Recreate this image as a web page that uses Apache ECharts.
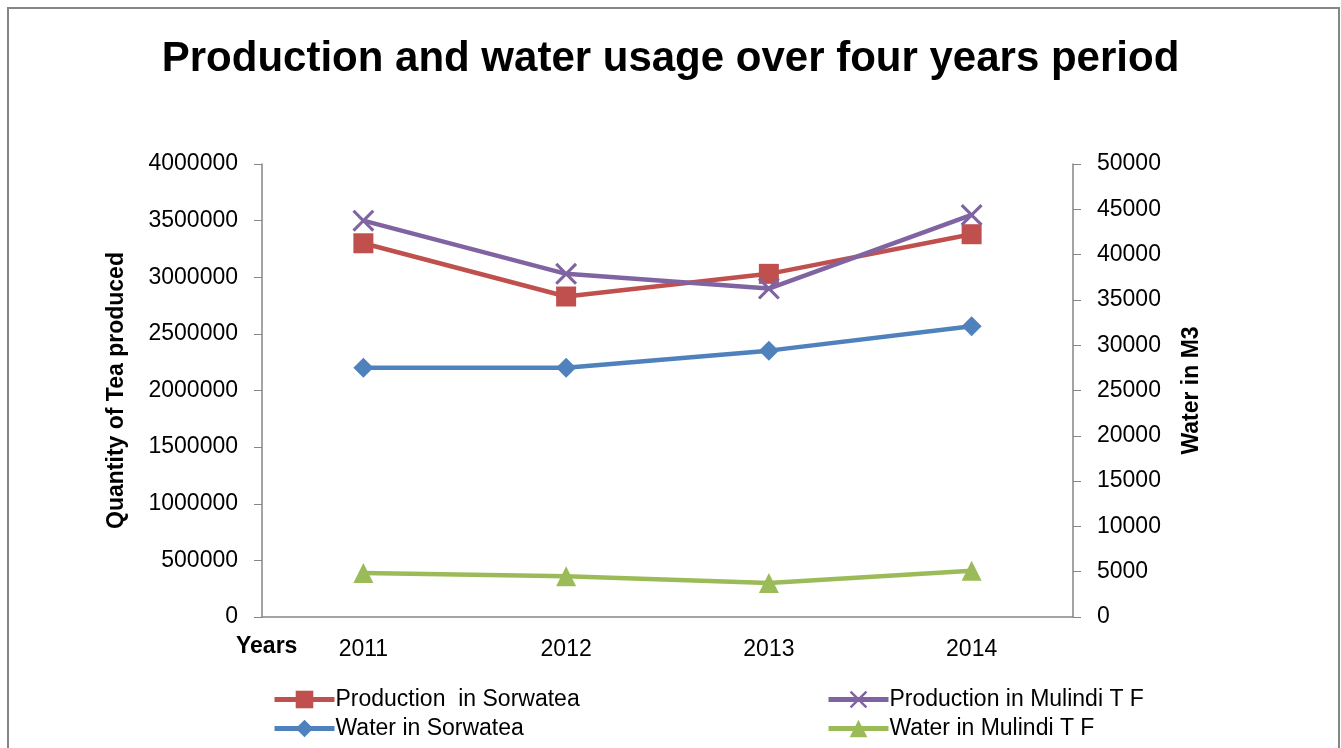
<!DOCTYPE html>
<html>
<head>
<meta charset="utf-8">
<title>Production and water usage</title>
<script src="https://cdn.jsdelivr.net/npm/echarts@6/dist/echarts.min.js"></script>
<style>
  html, body { margin: 0; padding: 0; background: #fff; }
  #chart { width: 1341px; height: 748px; }
</style>
</head>
<body>
<div id="chart"></div>
<script>
// values
var years = ['2011', '2012', '2013', '2014']
var prodSorwatea = [3300000, 2830000, 3030000, 3380000]
var prodMulindi = [3500000, 3030000, 2900000, 3550000]
var waterSorwatea = [27500, 27500, 29400, 32100]
var waterMulindi = [4850, 4500, 3750, 5100]

var font = '"Liberation Sans", Arial, sans-serif'
// filled cross, the purple series marker
var crossPath = 'path://M0,2L2,0L10,8L18,0L20,2L12,10L20,18L18,20L10,12L2,20L0,18L8,10Z'

var chart = echarts.init(document.getElementById('chart'))

function lineSeries(name, data, color, symbol, size, yIndex) {
  return {
    name: name,
    type: 'line',
    yAxisIndex: yIndex,
    data: data,
    symbol: symbol,
    symbolSize: size,
    showSymbol: true,
    lineStyle: { color: color, width: 4.5 },
    itemStyle: { color: color },
    emphasis: { disabled: true },
    animation: false
  }
}

// plain numbers, no thousands separator
function plain(v) {
  return String(v)
}

var legendBase = {
  orient: 'vertical',
  top: 683,
  itemWidth: 60,
  itemHeight: 22,
  itemGap: 6,
  lineStyle: { width: 5 },
  textStyle: { fontFamily: font, fontSize: 23, color: '#000', padding: [0, 0, 0, -4] }
}

chart.setOption({
  textStyle: { fontFamily: font },
  title: {
    text: 'Production and water usage over four years period',
    left: 'center',
    top: 33,
    textStyle: { fontFamily: font, fontSize: 42, fontWeight: 'bold', color: '#000' }
  },
  grid: { left: 262, right: 268, top: 164, bottom: 131 },
  legend: [
    Object.assign({}, legendBase, {
      left: 267,
      data: ['Production  in Sorwatea', 'Water in Sorwatea']
    }),
    Object.assign({}, legendBase, {
      left: 821,
      data: ['Production in Mulindi T F', 'Water in Mulindi T F']
    })
  ],
  xAxis: {
    type: 'category',
    data: years,
    axisLine: { lineStyle: { color: '#868686', width: 1.5 } },
    axisTick: { show: false },
    axisLabel: { color: '#000', fontSize: 23, fontFamily: font, margin: 21 }
  },
  yAxis: [
    {
      type: 'value',
      min: 0,
      max: 4000000,
      interval: 500000,
      name: 'Quantity of Tea produced',
      nameLocation: 'middle',
      nameGap: 134,
      nameTextStyle: { fontFamily: font, fontSize: 23, fontWeight: 'bold', color: '#000' },
      axisLine: { show: true, lineStyle: { color: '#868686', width: 1.5 } },
      axisTick: { show: true, length: 8, lineStyle: { color: '#868686' } },
      splitLine: { show: false },
      axisLabel: { color: '#000', fontSize: 23, fontFamily: font, margin: 24, formatter: plain }
    },
    {
      type: 'value',
      min: 0,
      max: 50000,
      interval: 5000,
      name: 'Water in M3',
      nameLocation: 'middle',
      nameGap: 107,
      nameTextStyle: { fontFamily: font, fontSize: 23, fontWeight: 'bold', color: '#000' },
      axisLine: { show: true, lineStyle: { color: '#868686', width: 1.5 } },
      axisTick: { show: true, length: 8, lineStyle: { color: '#868686' } },
      splitLine: { show: false },
      axisLabel: { color: '#000', fontSize: 23, fontFamily: font, margin: 24, formatter: plain }
    }
  ],
  graphic: [
    {
      type: 'rect',
      shape: { x: 8, y: 8, width: 1331, height: 760 },
      style: { fill: 'none', stroke: '#868686', lineWidth: 2 },
      silent: true
    },
    {
      type: 'text',
      left: 236,
      top: 635,
      style: { text: 'Years', fontFamily: font, fontSize: 23, fontWeight: 'bold', fill: '#000' }
    }
  ],
  series: [
    lineSeries('Production  in Sorwatea', prodSorwatea, '#c0504d', 'rect', 20, 0),
    lineSeries('Production in Mulindi T F', prodMulindi, '#8064a2', crossPath, 22, 0),
    lineSeries('Water in Sorwatea', waterSorwatea, '#4f81bd', 'diamond', 20, 1),
    lineSeries('Water in Mulindi T F', waterMulindi, '#9bbb59', 'triangle', 20, 1)
  ]
})
</script>
</body>
</html>
